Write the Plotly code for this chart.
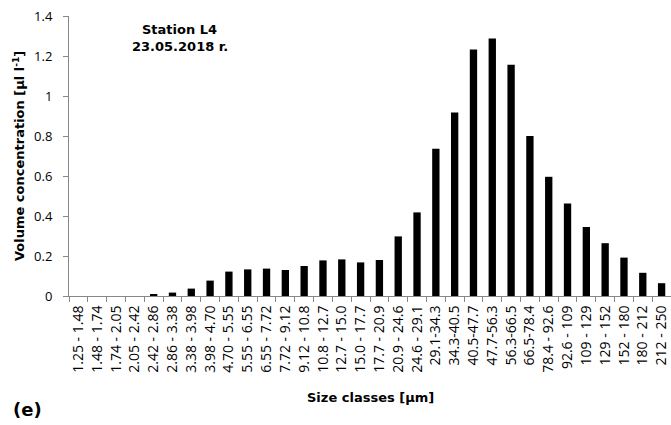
import plotly.graph_objects as go

categories = ["1.25 - 1.48", "1.48 - 1.74", "1.74 - 2.05", "2.05 - 2.42", "2.42 - 2.86",
              "2.86 - 3.38", "3.38 - 3.98", "3.98 - 4.70", "4.70 - 5.55", "5.55 - 6.55",
              "6.55 - 7.72", "7.72 - 9.12", "9.12 - 10.8", "10.8 - 12.7", "12.7 - 15.0",
              "15.0 - 17.7", "17.7 - 20.9", "20.9 - 24.6", "24.6 - 29.1", "29.1-34.3",
              "34.3-40.5", "40.5-47.7", "47.7-56.3", "56.3-66.5", "66.5-78.4",
              "78.4 - 92.6", "92.6 - 109", "109 - 129", "129 - 152", "152 - 180",
              "180 - 212", "212 - 250"]
values = [0.0, 0.0, 0.0, 0.0, 0.006,
          0.017, 0.037, 0.077, 0.122, 0.133,
          0.137, 0.13, 0.15, 0.178, 0.183,
          0.168, 0.18, 0.298, 0.418, 0.736,
          0.918, 1.232, 1.287, 1.156, 0.80,
          0.596, 0.463, 0.345, 0.264, 0.192,
          0.116, 0.064]

y_ticks = [0, 0.2, 0.4, 0.6, 0.8, 1.0, 1.2, 1.4]
y_ticktext = ["0", "0.2", "0.4", "0.6", "0.8", "1", "1.2", "1.4"]

fig = go.Figure(go.Bar(x=categories, y=values, marker=dict(color="black", line=dict(width=0))))

xtickfont = dict(family="Open Sans, Lato, sans-serif", size=14, color="black")
ytickfont = dict(family="Open Sans, Lato, sans-serif", size=13, color="black")
boldfont = dict(family="DejaVu Sans", size=13, color="black")
fig.update_layout(
    width=671, height=425,
    margin=dict(l=69, r=0, t=16, b=129),
    plot_bgcolor="white", paper_bgcolor="white",
    bargap=0.61,
    showlegend=False,
    xaxis=dict(
        type="category", tickangle=-90, tickfont=xtickfont,
        showline=True, linecolor="#888888", linewidth=1,
        ticks="outside", tickson="boundaries", ticklen=5, tickcolor="#888888",
        ticklabelstandoff=3,
        showgrid=False, range=[-0.5, len(categories) - 0.5],
    ),
    yaxis=dict(
        range=[0, 1.4], tickvals=y_ticks, ticktext=y_ticktext, tickfont=ytickfont,
        showline=True, linecolor="#888888", linewidth=1,
        ticks="outside", ticklen=5, tickcolor="#888888",
        ticklabelstandoff=8,
        showgrid=False, zeroline=False,
    ),
    annotations=[
        dict(text="<b>Station L4</b>", xref="paper", yref="paper",
             x=0.184, y=0.986, xanchor="center", yanchor="top", showarrow=False,
             font=boldfont),
        dict(text="<b>23.05.2018 r.</b>", xref="paper", yref="paper",
             x=0.184, y=0.925, xanchor="center", yanchor="top", showarrow=False,
             font=boldfont),
        dict(text="<b>Volume concentration [µl l<sup>-1</sup>]</b>", xref="paper", yref="paper",
             x=-0.083, y=0.5, xanchor="center", yanchor="middle", textangle=-90,
             showarrow=False, font=boldfont),
        dict(text="<b>Size classes [µm]</b>", xref="paper", yref="paper",
             x=0.5, y=-0.33, xanchor="center", yanchor="top", showarrow=False,
             font=boldfont),
        dict(text="<b>(e)</b>", xref="paper", yref="paper",
             x=-0.097, y=-0.36, xanchor="left", yanchor="top", showarrow=False,
             font=dict(family="DejaVu Sans", size=18, color="black")),
    ],
)

fig.write_html("out.html", config={"displayModeBar": False},
               post_script="document.body.style.margin='0';document.body.style.overflow='hidden';")
